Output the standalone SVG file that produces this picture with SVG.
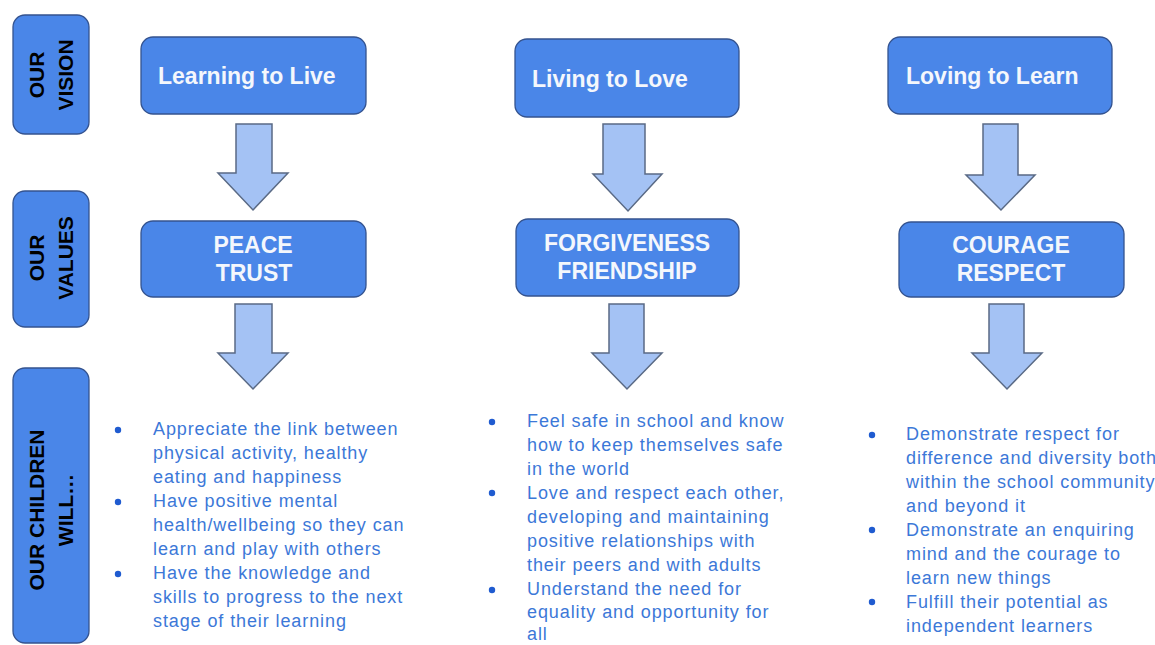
<svg xmlns="http://www.w3.org/2000/svg" width="1155" height="645" viewBox="0 0 1155 645">
<style>
.box{fill:#4a86e8;stroke:#34538f;stroke-width:1.3}
.side{font-family:"Liberation Sans",Arial,sans-serif;font-weight:bold;font-size:21px;fill:#000}
.vis{font-family:"Liberation Sans",Arial,sans-serif;font-weight:bold;font-size:23px;fill:#f4f7fc}
.val{font-family:"Liberation Sans",Arial,sans-serif;font-weight:bold;font-size:23px;fill:#f4f7fc;text-anchor:middle}
.arr{fill:#a4c2f4;stroke:#5a6a85;stroke-width:1.5;stroke-linejoin:miter}
.bt{font-family:"Liberation Sans",Arial,sans-serif;font-size:18px;fill:#3c78d8;letter-spacing:0.9px}
.dot{fill:#1f5bd0}
</style>
<rect width="1155" height="645" fill="#ffffff"/>

<g id="label-vision">
<rect class="box" x="13" y="15" width="76" height="119" rx="12"/>
<text class="side" transform="translate(44,75) rotate(-90)" text-anchor="middle">OUR<tspan x="0" dy="29">VISION</tspan></text>
</g>
<g id="label-values">
<rect class="box" x="13" y="191" width="76" height="136" rx="12"/>
<text class="side" transform="translate(44,258) rotate(-90)" text-anchor="middle">OUR<tspan x="0" dy="29">VALUES</tspan></text>
</g>
<g id="label-children">
<rect class="box" x="13" y="368" width="76" height="275" rx="12"/>
<text class="side" transform="translate(44,510) rotate(-90)" text-anchor="middle">OUR CHILDREN<tspan x="0" dy="29">WILL…</tspan></text>
</g>

<g id="vision-1">
<rect class="box" x="141" y="37" width="225" height="77" rx="12"/>
<text class="vis" x="158" y="84">Learning to Live</text>
</g>
<g id="vision-2">
<rect class="box" x="515" y="39" width="224" height="78" rx="12"/>
<text class="vis" x="532" y="87">Living to Love</text>
</g>
<g id="vision-3">
<rect class="box" x="888" y="37" width="224" height="77" rx="12"/>
<text class="vis" x="906" y="84">Loving to Learn</text>
</g>

<g id="values-1">
<rect class="box" x="141" y="221" width="225" height="76" rx="12"/>
<text class="val" x="253" y="253">PEACE</text>
<text class="val" x="254" y="281">TRUST</text>
</g>
<g id="values-2">
<rect class="box" x="516" y="219" width="223" height="77" rx="12"/>
<text class="val" x="627" y="251">FORGIVENESS</text>
<text class="val" x="627" y="279">FRIENDSHIP</text>
</g>
<g id="values-3">
<rect class="box" x="899" y="222" width="225" height="75" rx="12"/>
<text class="val" x="1011" y="253">COURAGE</text>
<text class="val" x="1011" y="281">RESPECT</text>
</g>

<g id="connectors">
<polygon class="arr" points="236,124 272,124 272,173 288,173 253,210 218,173 236,173"/>
<polygon class="arr" points="603,124 645,124 645,174 662,174 628,211 593,174 603,174"/>
<polygon class="arr" points="983,124 1018,124 1018,175 1035,175 1001,210 966,175 983,175"/>
<polygon class="arr" points="235,304 272,304 272,353 288,353 253,389 218,353 235,353"/>
<polygon class="arr" points="609,304 644,304 644,353 662,353 627,389 592,353 609,353"/>
<polygon class="arr" points="989,304 1024,304 1024,353 1042,353 1007,389 972,353 989,353"/>
</g>

<g id="outcomes-1">
<circle class="dot" cx="118" cy="430" r="3.2"/>
<circle class="dot" cx="118" cy="502" r="3.2"/>
<circle class="dot" cx="118" cy="574" r="3.2"/>
<text class="bt">
<tspan x="153" y="435">Appreciate the link between</tspan>
<tspan x="153" y="459">physical activity, healthy</tspan>
<tspan x="153" y="483">eating and happiness</tspan>
<tspan x="153" y="507">Have positive mental</tspan>
<tspan x="153" y="531">health/wellbeing so they can</tspan>
<tspan x="153" y="555">learn and play with others</tspan>
<tspan x="153" y="579">Have the knowledge and</tspan>
<tspan x="153" y="603">skills to progress to the next</tspan>
<tspan x="153" y="627">stage of their learning</tspan>
</text>
</g>

<g id="outcomes-2">
<circle class="dot" cx="492" cy="422" r="3.2"/>
<circle class="dot" cx="492" cy="493" r="3.2"/>
<circle class="dot" cx="492" cy="590" r="3.2"/>
<text class="bt">
<tspan x="527" y="427">Feel safe in school and know</tspan>
<tspan x="527" y="451">how to keep themselves safe</tspan>
<tspan x="527" y="475">in the world</tspan>
<tspan x="527" y="499">Love and respect each other,</tspan>
<tspan x="527" y="523">developing and maintaining</tspan>
<tspan x="527" y="547">positive relationships with</tspan>
<tspan x="527" y="571">their peers and with adults</tspan>
<tspan x="527" y="595">Understand the need for</tspan>
<tspan x="527" y="618">equality and opportunity for</tspan>
<tspan x="527" y="640">all</tspan>
</text>
</g>

<g id="outcomes-3">
<circle class="dot" cx="872" cy="435" r="3.2"/>
<circle class="dot" cx="872" cy="530" r="3.2"/>
<circle class="dot" cx="872" cy="602" r="3.2"/>
<text class="bt">
<tspan x="906" y="440">Demonstrate respect for</tspan>
<tspan x="906" y="464">difference and diversity both</tspan>
<tspan x="906" y="488">within the school community</tspan>
<tspan x="906" y="512">and beyond it</tspan>
<tspan x="906" y="536">Demonstrate an enquiring</tspan>
<tspan x="906" y="560">mind and the courage to</tspan>
<tspan x="906" y="584">learn new things</tspan>
<tspan x="906" y="608">Fulfill their potential as</tspan>
<tspan x="906" y="632">independent learners</tspan>
</text>
</g>
</svg>
